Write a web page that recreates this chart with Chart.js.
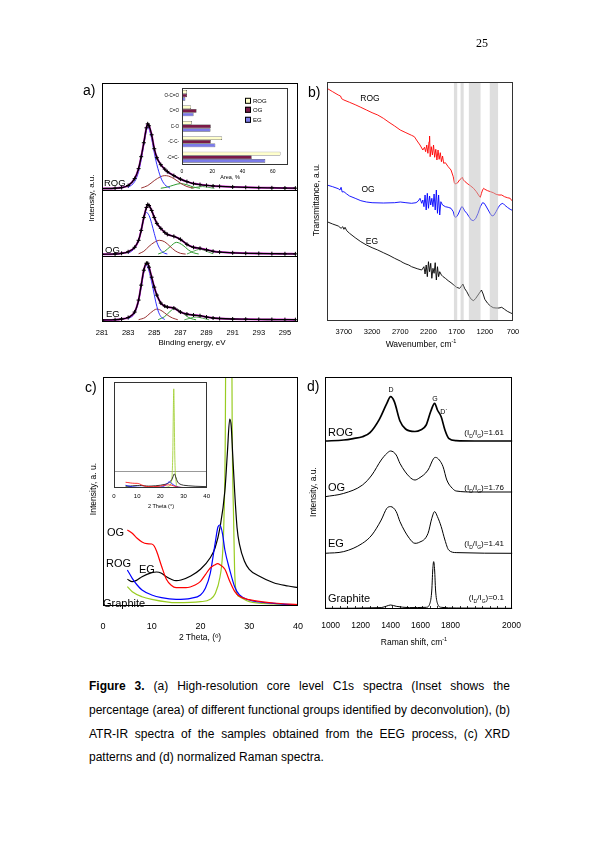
<!DOCTYPE html>
<html>
<head>
<meta charset="utf-8">
<script src="https://cdn.jsdelivr.net/npm/chart.js@4.4.1/dist/chart.umd.min.js"></script>
<style>
body { margin: 0; width: 595px; height: 842px; position: relative; overflow: hidden; background: #fff;
       font-family: "Liberation Sans", Arial, sans-serif; color: #000; }
canvas { position: absolute; }
.t { position: absolute; white-space: nowrap; line-height: 1; }
.c { transform: translate(-50%, -50%); }
.l { transform: translateY(-50%); }
.rr { transform: translate(-100%, -50%); }
.rot { transform: translate(-50%, -50%) rotate(-90deg); }
.cap { position: absolute; left: 89px; width: 421px; font-size: 12px; line-height: 14px; white-space: nowrap; }
.sq { display: inline-block; width: 4px; height: 4px; border: 0.5px solid #000; margin-right: 2px; vertical-align: middle; }
</style>
</head>
<body>
<canvas id="chartA"></canvas>
<canvas id="chartB"></canvas>
<canvas id="chartC"></canvas>
<canvas id="chartD"></canvas>
<canvas id="insetA"></canvas>
<canvas id="insetC" style="background:#fff"></canvas>

<div class="t" style="left:476px;top:36px;font:12px 'Liberation Serif',serif">25</div>

<!-- panel a -->
<div class="t l" style="left:83px;top:90px;font-size:14px">a)</div>
<div class="t rot" style="left:92px;top:198px;font-size:8px">Intensity, a.u.</div>
<div class="t c" style="left:192px;top:343px;font-size:8px">Binding energy, eV</div>
<div class="t l" style="left:104px;top:183px;font-size:9.5px">ROG</div>
<div class="t l" style="left:105px;top:250px;font-size:9.5px">OG</div>
<div class="t l" style="left:106px;top:314px;font-size:9.5px">EG</div>
<div class="t c" style="left:230px;top:178px;font-size:5.5px">Area, %</div>
<div class="t l" style="left:245px;top:101px;font-size:6px"><span class="sq" style="background:#ffffcc"></span>ROG</div>
<div class="t l" style="left:245px;top:110px;font-size:6px"><span class="sq" style="background:#7a1a48"></span>OG</div>
<div class="t l" style="left:245px;top:119.5px;font-size:6px"><span class="sq" style="background:#7b7be8"></span>EG</div>

<!-- panel b -->
<div class="t l" style="left:308px;top:92px;font-size:14px">b)</div>
<div class="t rot" style="left:316px;top:200px;font-size:8.5px">Transmittance, a.u.</div>
<div class="t c" style="left:421px;top:344px;font-size:8.5px">Wavenumber, cm<sup style="font-size:5.5px">-1</sup></div>
<div class="t c" style="left:370px;top:98px;font-size:8.5px">ROG</div>
<div class="t c" style="left:368px;top:189px;font-size:8.5px">OG</div>
<div class="t c" style="left:372px;top:241px;font-size:8.5px">EG</div>

<!-- panel c -->
<div class="t l" style="left:85px;top:387px;font-size:14px">c)</div>
<div class="t rot" style="left:93px;top:489px;font-size:8.5px">Intensity, a. u.</div>
<div class="t c" style="left:200px;top:637px;font-size:8.5px">2 Theta, (º)</div>
<div class="t c" style="left:161px;top:507px;font-size:5.5px">2 Theta (°)</div>
<div class="t l" style="left:107px;top:532px;font-size:11px">OG</div>
<div class="t l" style="left:106px;top:563px;font-size:11px">ROG</div>
<div class="t l" style="left:139px;top:569px;font-size:11px">EG</div>
<div class="t l" style="left:103px;top:603px;font-size:11px">Graphite</div>

<!-- panel d -->
<div class="t l" style="left:307px;top:386px;font-size:14px">d)</div>
<div class="t rot" style="left:313px;top:492px;font-size:8.5px">Intensity, a.u.</div>
<div class="t c" style="left:414px;top:642px;font-size:8.5px">Raman shift, cm<sup style="font-size:5.5px">-1</sup></div>
<div class="t c" style="left:391px;top:389px;font-size:7px">D</div>
<div class="t c" style="left:435px;top:398px;font-size:7px">G</div>
<div class="t c" style="left:444px;top:411px;font-size:7px">D`</div>
<div class="t l" style="left:328px;top:432px;font-size:11px">ROG</div>
<div class="t l" style="left:328px;top:487px;font-size:11px">OG</div>
<div class="t l" style="left:328px;top:543px;font-size:11px">EG</div>
<div class="t l" style="left:328px;top:598px;font-size:11px">Graphite</div>
<div class="t rr" style="left:504px;top:434px;font-size:8px">(I<sub style="font-size:5px">D</sub>/I<sub style="font-size:5px">G</sub>)=1.61</div>
<div class="t rr" style="left:504px;top:489px;font-size:8px">(I<sub style="font-size:5px">D</sub>/I<sub style="font-size:5px">G</sub>)=1.76</div>
<div class="t rr" style="left:504px;top:545px;font-size:8px">(I<sub style="font-size:5px">D</sub>/I<sub style="font-size:5px">G</sub>)=1.41</div>
<div class="t rr" style="left:504px;top:599px;font-size:8px">(I<sub style="font-size:5px">D</sub>/I<sub style="font-size:5px">G</sub>)=0.1</div>

<div id="caption"></div>

<script>
// ---------- panel a: XPS C1s (intensity, a.u.) ----------
const aTicks = [281, 283, 285, 287, 289, 291, 293, 295];
const aEnergy = [281, 282, 282.5, 283, 283.5, 283.8, 284, 284.2, 284.4, 284.5, 284.6, 284.8, 285, 285.2, 285.5,
                 285.8, 286, 286.5, 287, 287.5, 288, 288.5, 289, 289.5, 290, 291, 292, 293, 294, 295, 295.8];
const aROG = [0, 0.3, 1, 3, 10, 20, 32, 46, 61, 65, 63, 54, 40, 31, 24, 19.5, 17, 13, 9.5, 7, 5, 4, 3.2, 2.6, 2.2, 1.6, 1.2, 0.9, 0.7, 0.5, 0.4];
const aOG = [0, 0.3, 1, 2.5, 7, 14, 24, 37, 47, 50, 49, 44, 37, 31, 26, 22, 20, 18, 15, 10, 7, 6, 4.5, 3, 2.2, 1.5, 1, 0.8, 0.6, 0.5, 0.4];
const aEG = [0, 0.3, 1, 2.5, 8, 20, 35, 50, 57, 57, 53, 43, 33, 25, 17, 14, 13, 12, 8, 6, 5, 4.3, 3, 2, 1.5, 1, 0.8, 0.6, 0.5, 0.4, 0.3];
// fitted components [eV, intensity]
const aRogCC = [[283, 1], [283.5, 7], [283.8, 17], [284, 29], [284.2, 44], [284.4, 58], [284.5, 62], [284.6, 60], [284.8, 50], [285, 36], [285.2, 24], [285.5, 11], [285.8, 4], [286.2, 0.5]];
const aRogC2 = [[284, 0.5], [284.5, 3], [285, 8], [285.5, 12], [285.8, 13], [286.1, 12.5], [286.5, 10], [287, 5.5], [287.5, 2], [288, 0.5]];
const aRogC3 = [[285.5, 0.3], [286, 1.5], [286.5, 3.5], [287, 5], [287.5, 3.8], [288, 1.5], [288.5, 0.3]];
const aRogC4 = [[287.8, 0.2], [288.3, 1.5], [288.7, 2], [289.1, 1.3], [289.6, 0.2]];
const aOgCC = [[283, 1], [283.5, 6], [283.8, 14], [284, 24], [284.2, 36], [284.4, 42], [284.6, 39], [284.8, 31], [285, 21], [285.2, 12], [285.5, 4], [285.8, 1], [286, 0.3]];
const aOgC2 = [[283.8, 0.5], [284.2, 3], [284.6, 8], [285, 12], [285.4, 14], [285.8, 12.5], [286.2, 8], [286.6, 3.5], [287, 1], [287.4, 0.2]];
const aOgC3 = [[285.3, 0.3], [285.8, 3], [286.2, 7.5], [286.7, 12], [287.2, 9], [287.6, 4.5], [288, 1.5], [288.4, 0.3]];
const aOgC4 = [[287.5, 0.3], [288, 3], [288.5, 5], [289, 3], [289.5, 0.5]];
const aEgCC = [[283, 1], [283.5, 7], [283.8, 19], [284, 33], [284.2, 48], [284.35, 55], [284.5, 53], [284.7, 44], [284.9, 32], [285.1, 19], [285.3, 9], [285.5, 3.5], [285.8, 0.5]];
const aEgC2 = [[283.8, 0.3], [284.3, 2.5], [284.7, 7], [285.2, 11], [285.6, 9], [286, 5], [286.4, 2], [286.8, 0.3]];
const aEgC3 = [[285.3, 0.3], [285.8, 3.5], [286.2, 8.5], [286.6, 12], [287, 9], [287.4, 4.5], [287.8, 1.5], [288.2, 0.2]];
const aEgC4 = [[287.3, 0.2], [287.8, 2], [288.2, 3], [288.7, 1.8], [289.2, 0.2]];

// inset a: functional groups, area %
const aiGroups = ['O-C=O', 'C=O', 'C-O', '-C-C-', '-C=C-'];
const aiROG = [3.3, 6, 6.5, 26.5, 65];
const aiOG = [3.3, 9.6, 19, 19, 46];
const aiEG = [2.2, 7.6, 18.8, 22, 55];
const aiTicks = [0, 20, 40, 60];

// ---------- panel b: ATR-IR (transmittance, a.u.) ----------
const bTicks = [3700, 3200, 2700, 2200, 1700, 1200, 700];
const bBands = [[1748, 1690], [1630, 1575], [1483, 1276], [1112, 965]];
const bROG = [[4000, 232.7], [3900, 229.3], [3800, 226], [3760, 225], [3740, 222.3], [3700, 221], [3600, 218.7], [3500, 216.3],
  [3400, 213.7], [3300, 211], [3200, 208.3], [3100, 206], [3000, 202.7], [2900, 198.7], [2800, 195], [2700, 191], [2600, 188.3],
  [2500, 185.7], [2450, 184.3], [2400, 180], [2350, 176], [2300, 171], [2270, 173.7], [2250, 169.3], [2230, 176], [2210, 167.7],
  [2190, 179.3], [2180, 185], [2170, 164.3], [2150, 174.3], [2130, 166], [2110, 176], [2090, 163.7], [2070, 171.7], [2050, 161],
  [2030, 171], [2010, 161.7], [1990, 168.3], [1970, 159.3], [1950, 165], [1930, 157.7], [1900, 158.3], [1850, 154.3], [1800, 151],
  [1760, 144.3], [1740, 138.3], [1720, 137], [1700, 137.7], [1680, 138.3], [1650, 141], [1620, 142.3], [1600, 143.7], [1580, 141],
  [1550, 139.3], [1500, 137], [1450, 135], [1400, 132.7], [1350, 129.3], [1300, 125], [1280, 123.7], [1260, 127.7], [1240, 131],
  [1220, 132.7], [1200, 131.7], [1150, 130.3], [1100, 129.3], [1050, 128.3], [1000, 126.7], [950, 126], [900, 126], [850, 124.3],
  [800, 123.3], [750, 122.7], [720, 120.3], [700, 119.3]];
const bOG = [[4000, 136], [3900, 134.3], [3800, 132.3], [3770, 131], [3750, 133.7], [3730, 129], [3700, 129.3], [3650, 127],
  [3600, 125], [3500, 122.7], [3400, 120.3], [3300, 119], [3200, 118.3], [3000, 118], [2800, 118.3], [2700, 119], [2600, 118.3],
  [2500, 117.7], [2420, 118.3], [2380, 120], [2350, 122.7], [2320, 117.7], [2300, 121], [2280, 114.3], [2260, 126], [2240, 111],
  [2220, 127.7], [2200, 112.7], [2180, 125], [2160, 116], [2140, 122.7], [2120, 114.3], [2100, 127], [2080, 111], [2060, 131],
  [2040, 107.7], [2020, 126], [2000, 106], [1980, 119.3], [1950, 116], [1900, 114.3], [1850, 113.7], [1800, 112.7], [1760, 109.3],
  [1740, 105], [1720, 103.7], [1700, 104.3], [1670, 107], [1640, 111], [1610, 114.3], [1590, 113.7], [1560, 110.3], [1520, 107.7],
  [1480, 104.3], [1440, 101], [1400, 100.3], [1360, 102.7], [1320, 107.7], [1280, 114.3], [1240, 118.3], [1210, 117.7], [1180, 115],
  [1140, 111], [1100, 107], [1070, 105], [1040, 105.7], [1000, 109.3], [960, 113.7], [920, 116.7], [880, 117.7], [850, 116],
  [800, 113.7], [750, 111.7], [700, 110.3]];
const bEG = [[4000, 99.3], [3900, 97], [3800, 95], [3750, 92.7], [3720, 94.3], [3700, 91.7], [3680, 93.7], [3650, 90.3],
  [3600, 87.7], [3500, 83.3], [3400, 79.3], [3300, 76], [3200, 73.3], [3100, 71], [3000, 68.3], [2900, 65.7], [2800, 62.7],
  [2700, 60], [2650, 58.3], [2600, 57], [2550, 56], [2500, 54.3], [2400, 52.3], [2320, 51], [2280, 54.3], [2260, 47], [2240, 56],
  [2220, 44.3], [2200, 59.3], [2180, 49.3], [2160, 57.7], [2140, 42.7], [2120, 52.7], [2100, 47.7], [2080, 58.3], [2060, 41],
  [2040, 54.3], [2020, 44.3], [2000, 49.3], [1970, 46], [1940, 44.3], [1900, 42.7], [1850, 40.3], [1800, 38.3], [1750, 36],
  [1700, 33.7], [1650, 32.7], [1620, 34.3], [1590, 37], [1560, 32.7], [1520, 29.3], [1480, 25], [1440, 21.7], [1400, 20.3],
  [1360, 22.7], [1320, 26], [1280, 29.3], [1260, 31], [1230, 27], [1200, 21.7], [1150, 17.7], [1100, 15], [1050, 13.3],
  [1000, 13], [950, 13], [900, 13.7], [850, 11.7], [800, 9.7], [750, 8.3], [700, 7]];

// ---------- panel c: XRD (2 theta, intensity a.u.) ----------
const cTicks = [0, 10, 20, 30, 40];
const cOG = [[5, 76], [6, 72.7], [7, 67.7], [8, 64], [9, 62.3], [10, 62], [10.5, 60], [11, 54.7], [12, 40], [13, 26.7], [14, 20.7],
  [15, 18.3], [17, 18.3], [19, 21.3], [20, 24.7], [21, 31.3], [22, 38], [23, 41.3], [23.5, 42.3], [24, 41.3], [25, 36.7],
  [26, 24.7], [27, 14.7], [28, 9.7], [30, 6.3], [35, 3], [40, 1.3]];
const cROG = [[5, 36], [6, 27.7], [7, 21], [8, 16], [10, 11], [12, 8.3], [15, 6.7], [18, 7.7], [20, 11], [21, 17.7], [22, 32.7],
  [23, 62.7], [23.6, 79.3], [24, 81], [24.5, 72.7], [25, 56], [26, 36], [27, 19.3], [28, 11], [30, 6], [35, 2.7], [40, 1]];
const cEG = [[5, 26.7], [6, 24.3], [7, 26], [8, 29.3], [10, 33.3], [11, 34], [12, 32.7], [13, 29.3], [14, 26.7], [15, 25.3],
  [16, 26], [18, 30], [20, 36.7], [22, 48.3], [23, 58.3], [24, 78.3], [25, 115], [25.5, 152], [26, 187], [26.3, 180],
  [26.6, 152], [27, 115], [27.5, 78.3], [28, 61.7], [29, 45], [30, 36.7], [32, 30], [35, 23.3], [38, 20], [40, 18.3]];
const cGraphite = [[5, 19.3], [6, 14.3], [8, 9.3], [10, 6.7], [15, 3.3], [20, 4.3], [22, 6.7], [23, 12.3], [24, 29], [24.5, 50],
  [24.8, 85], [25.1, 180], [25.4, 500], [25.6, 1000], [25.8, 1320], [26, 1000], [26.2, 500], [26.5, 180], [26.8, 85], [27, 35],
  [27.5, 12], [28, 9.3], [30, 4.3], [35, 2], [40, 1]];
const cZoomLevel = 229;

// ---------- panel d: Raman (shift cm-1, intensity a.u.) ----------
const dTickPos = [1030, 1190, 1350, 1510, 1670, 1995];
const dTickLabels = ['1000', '1200', '1400', '1600', '1800', '2000'];
const dROG = [[1000, 0], [1100, 1], [1150, 2.4], [1200, 4.3], [1240, 8.4], [1290, 21.7], [1330, 37.7], [1350, 44.3], [1370, 39.3],
  [1400, 20], [1430, 12], [1480, 9.5], [1510, 11], [1540, 16], [1565, 30], [1585, 37.7], [1600, 31], [1620, 24.3], [1640, 11],
  [1660, 2.7], [1700, 0.3], [1800, 0], [2000, 0]];
const dOG = [[1000, 0], [1100, 3.3], [1200, 11.7], [1250, 21.7], [1300, 36.7], [1330, 43.3], [1350, 45.7], [1380, 41.7],
  [1400, 33.3], [1450, 20], [1480, 16.7], [1500, 18.3], [1550, 26.7], [1580, 38.3], [1590, 39.3], [1610, 36.7], [1630, 30],
  [1650, 16.7], [1680, 8.3], [1700, 5.7], [1800, 4.7], [2000, 4.7]];
const dEG = [[1000, 0], [1100, 1.7], [1200, 10], [1250, 18.3], [1300, 33.3], [1330, 45], [1350, 46.7], [1380, 41.7], [1400, 31.7],
  [1450, 15], [1480, 10], [1500, 10.7], [1550, 20], [1570, 35], [1585, 41.7], [1600, 36.7], [1620, 26.7], [1640, 13.3],
  [1660, 3.3], [1700, 0.7], [2000, 0]];
const dGraphite = [[1000, 0], [1300, 0.7], [1330, 2.3], [1350, 3.3], [1380, 2], [1450, 0.7], [1540, 1], [1560, 5], [1570, 18.3],
  [1575, 38.3], [1580, 46.7], [1585, 38.3], [1590, 18.3], [1600, 5], [1620, 1], [1700, 0.3], [2000, 0]];

const captionLines = [
  'Figure 3. (a) High-resolution core level C1s spectra (Inset shows the',
  'percentage (area) of different functional groups identified by deconvolution), (b)',
  'ATR-IR spectra of the samples obtained from the EEG process, (c) XRD',
  'patterns and (d) normalized Raman spectra.'
];

// ---------- helpers ----------
const FONT = '"Liberation Sans", Arial, sans-serif';

const frame = {
  id: 'frame',
  afterDraw(chart, args, opts) {
    const {ctx, chartArea: a} = chart;
    ctx.save();
    ctx.strokeStyle = opts.color || '#000';
    ctx.lineWidth = 1;
    ctx.strokeRect(Math.round(a.left) + 0.5, Math.round(a.top) + 0.5, Math.round(a.width) - 1, Math.round(a.height) - 1);
    ctx.restore();
  }
};

const hLines = {
  id: 'hLines',
  beforeDatasetsDraw(chart, args, opts) {
    if (!opts.values) return;
    const {ctx, chartArea: a, scales: {y}} = chart;
    ctx.save();
    ctx.strokeStyle = opts.color;
    ctx.lineWidth = 1;
    opts.values.forEach(v => {
      const py = Math.round(y.getPixelForValue(v)) + 0.5;
      ctx.beginPath(); ctx.moveTo(a.left, py); ctx.lineTo(a.right, py); ctx.stroke();
    });
    ctx.restore();
  }
};

// translucent bands drawn over the spectra, so the lines show through paler
const bands = {
  id: 'bands',
  afterDatasetsDraw(chart, args, opts) {
    if (!opts.ranges) return;
    const {ctx, chartArea: a, scales: {x}} = chart;
    ctx.save();
    ctx.fillStyle = opts.color;
    opts.ranges.forEach(([v1, v2]) => {
      const p1 = x.getPixelForValue(v1), p2 = x.getPixelForValue(v2);
      ctx.fillRect(Math.min(p1, p2), a.top, Math.abs(p2 - p1), a.height);
    });
    ctx.restore();
  }
};

const minorTicks = {
  id: 'minorTicks',
  afterDraw(chart, args, opts) {
    if (!opts.step) return;
    const {ctx, chartArea: a, scales: {x}} = chart;
    ctx.save();
    ctx.strokeStyle = '#000';
    ctx.lineWidth = 0.8;
    for (let v = x.min + opts.step; v < x.max; v += opts.step) {
      const px = Math.round(x.getPixelForValue(v)) + 0.5;
      ctx.beginPath(); ctx.moveTo(px, a.bottom); ctx.lineTo(px, a.bottom - opts.len); ctx.stroke();
    }
    ctx.restore();
  }
};

function place(cv, box, pad) {
  const w = box.r - box.l + pad.l + pad.r;
  const h = box.b - box.t + pad.t + pad.b;
  cv.width = w; cv.height = h;
  cv.style.width = w + 'px'; cv.style.height = h + 'px';
  cv.style.left = (box.l - pad.l) + 'px';
  cv.style.top = (box.t - pad.t) + 'px';
}

const pairs = (list, off = 0) => list.map(([x, y]) => ({x, y: y + off}));
const zip = (xs, ys, off = 0) => xs.map((x, i) => ({x, y: ys[i] + off}));

function line(data, color, width, extra) {
  return Object.assign({data, borderColor: color, backgroundColor: color, borderWidth: width,
    pointRadius: 0, fill: false, tension: 0}, extra || {});
}
const smooth = {cubicInterpolationMode: 'monotone'};

function lineChart(id, box, pad, cfg) {
  const cv = document.getElementById(id);
  place(cv, box, pad);
  return new Chart(cv, {
    type: 'line',
    data: {datasets: cfg.datasets},
    options: {
      responsive: false, animation: false, events: [],
      layout: {padding: {left: pad.l, right: pad.r, top: pad.t, bottom: 0}},
      plugins: Object.assign({legend: {display: false}, tooltip: {enabled: false}}, cfg.pluginOpts || {}),
      scales: {
        x: {
          type: 'linear', min: cfg.xMin, max: cfg.xMax, reverse: !!cfg.reverse,
          grid: {display: false, drawTicks: false}, border: {display: false},
          afterBuildTicks: s => { s.ticks = cfg.xTicks.map(v => ({value: v})); },
          afterFit: s => { s.height = pad.b; },
          ticks: {
            color: '#000', font: {family: FONT, size: cfg.tickSize}, padding: cfg.tickPad,
            maxRotation: 0, autoSkip: false,
            callback: (v, i) => cfg.xLabels ? cfg.xLabels[i] : String(v)
          }
        },
        y: {type: 'linear', display: false, min: cfg.yMin, max: cfg.yMax}
      }
    },
    plugins: [frame, hLines, bands, minorTicks]
  });
}

// ---------- panel a ----------
const aSections = [
  {data: aROG, off: 134, cc: aRogCC, c2: aRogC2, c3: aRogC3, c4: aRogC4},
  {data: aOG, off: 68, cc: aOgCC, c2: aOgC2, c3: aOgC3, c4: aOgC4},
  {data: aEG, off: 2, cc: aEgCC, c2: aEgC2, c3: aEgC3, c4: aEgC4}
];
const aSets = [];
aSections.forEach(s => {
  aSets.push(line(zip(aEnergy, s.data, s.off), '#000', 1.3, Object.assign({
    pointRadius: 2, pointStyle: 'cross', pointBorderWidth: 1, pointBorderColor: '#000'}, smooth)));
});
aSections.forEach(s => {
  aSets.push(line(zip(aEnergy, s.data, s.off), '#d020d0', 2, smooth));
  aSets.push(line(pairs(s.cc, s.off), '#3030ff', 1, smooth));
  aSets.push(line(pairs(s.c2, s.off), '#993333', 1, smooth));
  aSets.push(line(pairs(s.c3, s.off), '#2f9a2f', 1, smooth));
  aSets.push(line(pairs(s.c4, s.off), '#55aa55', 1, smooth));
});
lineChart('chartA', {l: 102, t: 82, r: 298, b: 322}, {l: 20, r: 20, t: 4, b: 22}, {
  xMin: 281, xMax: 296, xTicks: aTicks, tickSize: 7.5, tickPad: 6, yMin: 0, yMax: 240,
  datasets: aSets,
  pluginOpts: {frame: {color: '#000'}, hLines: {values: [66.6, 133], color: '#000'}}
});

// inset a: horizontal bars
(function () {
  const box = {l: 182, t: 82, r: 288, b: 165}, pad = {l: 24, r: 6, t: 0, b: 12};
  const cv = document.getElementById('insetA');
  place(cv, box, pad);
  new Chart(cv, {
    type: 'bar',
    data: {
      labels: aiGroups,
      datasets: [
        {label: 'ROG', data: aiROG, backgroundColor: '#ffffcc', borderColor: '#000', borderWidth: 0.5},
        {label: 'OG', data: aiOG, backgroundColor: '#7a1a48', borderColor: '#000', borderWidth: 0.5},
        {label: 'EG', data: aiEG, backgroundColor: '#7b7be8', borderColor: '#000', borderWidth: 0.5}
      ]
    },
    options: {
      indexAxis: 'y', responsive: false, animation: false, events: [],
      layout: {padding: {left: 0, right: pad.r, top: pad.t, bottom: 0}},
      datasets: {bar: {barPercentage: 1, categoryPercentage: 0.7}},
      plugins: {legend: {display: false}, tooltip: {enabled: false}, frame: {color: '#333'}},
      scales: {
        x: {
          type: 'linear', min: 0, max: 70, grid: {display: false, drawTicks: false}, border: {display: false},
          afterBuildTicks: s => { s.ticks = aiTicks.map(v => ({value: v})); },
          afterFit: s => { s.height = pad.b; },
          ticks: {color: '#000', font: {family: FONT, size: 5}, padding: 4, maxRotation: 0, callback: v => String(v)}
        },
        y: {
          grid: {display: false, drawTicks: false}, border: {display: false},
          afterFit: s => { s.width = pad.l; },
          ticks: {color: '#000', font: {family: FONT, size: 4.5}, padding: 3}
        }
      }
    },
    plugins: [frame]
  });
})();

// ---------- panel b ----------
lineChart('chartB', {l: 327, t: 82, r: 513, b: 321}, {l: 20, r: 20, t: 4, b: 22}, {
  xMin: 700, xMax: 4000, reverse: true, xTicks: bTicks, tickSize: 7.5, tickPad: 6, yMin: 0, yMax: 239,
  datasets: [line(pairs(bROG), '#ff0000', 0.9), line(pairs(bOG), '#0000ff', 0.9), line(pairs(bEG), '#000', 0.9)],
  pluginOpts: {frame: {color: '#333'}, bands: {ranges: bBands, color: 'rgba(190,190,190,0.5)'}}
});

// ---------- panel c ----------
const cSets = (w) => [
  line(pairs(cOG), '#ff0000', w, smooth),
  line(pairs(cROG), '#0000ff', w, smooth),
  line(pairs(cEG), '#000', w, smooth),
  line(pairs(cGraphite), '#99cc22', w, smooth)
];
lineChart('chartC', {l: 103, t: 377, r: 298, b: 606}, {l: 20, r: 20, t: 4, b: 26}, {
  xMin: 0, xMax: 40, xTicks: cTicks, tickSize: 9, tickPad: 15, yMin: 0, yMax: cZoomLevel,
  datasets: cSets(1.2),
  pluginOpts: {frame: {color: '#000'}}
});
lineChart('insetC', {l: 114, t: 382, r: 207, b: 488}, {l: 8, r: 8, t: 2, b: 14}, {
  xMin: 0, xMax: 40, xTicks: cTicks, tickSize: 6, tickPad: 5, yMin: 0, yMax: 1411,
  datasets: cSets(0.8),
  pluginOpts: {frame: {color: '#333'}, hLines: {values: [cZoomLevel], color: '#999'}}
});

// ---------- panel d ----------
lineChart('chartD', {l: 325, t: 377, r: 513, b: 609}, {l: 20, r: 20, t: 4, b: 26}, {
  xMin: 1000, xMax: 2000, xTicks: dTickPos, xLabels: dTickLabels, tickSize: 8.5, tickPad: 12, yMin: 0, yMax: 232,
  datasets: [
    line(pairs(dROG, 168), '#000', 1.7, smooth),
    line(pairs(dOG, 112.3), '#000', 1, smooth),
    line(pairs(dEG, 55.7), '#000', 1, smooth),
    line(pairs(dGraphite, 0.7), '#000', 1, smooth)
  ],
  pluginOpts: {frame: {color: '#000'}, minorTicks: {step: 40, len: 3}}
});

// ---------- caption ----------
const capTops = [679, 703, 727, 750];
const capBox = document.getElementById('caption');
captionLines.forEach((text, i) => {
  const div = document.createElement('div');
  div.className = 'cap';
  div.style.top = capTops[i] + 'px';
  const words = text.split(' ');
  if (i < captionLines.length - 1) {
    div.style.display = 'flex';
    div.style.justifyContent = 'space-between';
    words.forEach((w, j) => {
      const span = document.createElement('span');
      span.textContent = w;
      if (i === 0 && j < 2) span.style.fontWeight = 'bold';
      div.appendChild(span);
    });
  } else {
    div.textContent = text;
  }
  capBox.appendChild(div);
});
</script>
</body>
</html>
